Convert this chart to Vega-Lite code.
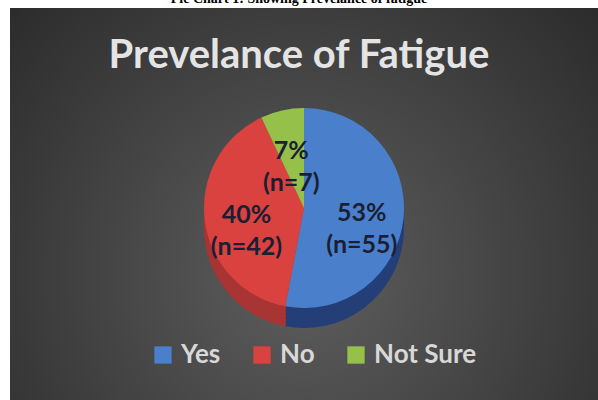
{
  "$schema": "https://vega.github.io/schema/vega-lite/v6.json",
  "width": 588,
  "height": 392,
  "autosize": {"type": "none"},
  "padding": {"left": 10, "top": 8, "right": 0, "bottom": 0},
  "background": "white",
  "title": {
    "text": "Pie Chart 1: Showing Prevelance of fatigue",
    "subtitle": "Prevelance of Fatigue",
    "anchor": "middle",
    "frame": "group",
    "offset": -68,
    "dx": -5,
    "font": "Liberation Serif",
    "fontSize": 14,
    "fontWeight": "bold",
    "color": "#000000",
    "subtitleFont": "Lato",
    "subtitleFontSize": 40,
    "subtitleFontWeight": "bold",
    "subtitleColor": "#e4e4e4",
    "subtitlePadding": 30
  },
  "datasets": {
    "pie": [
      {"answer": "Yes", "pct": 53, "n": 55, "idx": 1, "label": "53%\n(n=55)"},
      {"answer": "No", "pct": 40, "n": 42, "idx": 2, "label": "40%\n(n=42)"},
      {"answer": "Not Sure", "pct": 7, "n": 7, "idx": 3, "label": "7%\n(n=7)"}
    ],
    "bg": [{}]
  },
  "resolve": {"scale": {"color": "independent"}, "legend": {"color": "independent"}},
  "layer": [
    {
      "data": {"name": "bg"},
      "mark": {
        "type": "rect",
        "color": {
          "gradient": "radial",
          "x1": 0.5, "y1": 0.62, "r1": 0,
          "x2": 0.5, "y2": 0.62, "r2": 0.75,
          "stops": [
            {"offset": 0, "color": "#5e5e5e"},
            {"offset": 1, "color": "#262626"}
          ]
        }
      },
      "encoding": {}
    },
    {
      "data": {"name": "pie"},
      "layer": [
        {"mark": {"type": "arc", "outerRadius": 100, "yOffset": 24}},
        {"mark": {"type": "arc", "outerRadius": 100, "yOffset": 20}},
        {"mark": {"type": "arc", "outerRadius": 100, "yOffset": 16}},
        {"mark": {"type": "arc", "outerRadius": 100, "yOffset": 12}},
        {"mark": {"type": "arc", "outerRadius": 100, "yOffset": 8}}
      ],
      "encoding": {
        "theta": {"field": "pct", "type": "quantitative", "stack": true},
        "order": {"field": "idx", "type": "quantitative"},
        "color": {"field": "answer", "type": "nominal", "scale": {"domain": ["Yes", "No", "Not Sure"], "range": ["#243f78", "#a83434", "#64852b"]}, "legend": null}
      }
    },
    {
      "data": {"name": "pie"},
      "mark": {"type": "arc", "outerRadius": 100, "yOffset": 4},
      "encoding": {
        "theta": {"field": "pct", "type": "quantitative", "stack": true},
        "order": {"field": "idx", "type": "quantitative"},
        "color": {
          "field": "answer",
          "type": "nominal",
          "scale": {"domain": ["Yes", "No", "Not Sure"], "range": ["#4a7fcc", "#d9423f", "#95c04a"]},
          "legend": {
            "orient": "none",
            "legendX": 140,
            "legendY": 334,
            "direction": "horizontal",
            "title": null,
            "symbolType": "square",
            "symbolSize": 300,
            "symbolStrokeWidth": 0,
            "labelFont": "Lato",
            "labelFontSize": 26,
            "labelFontWeight": "bold",
            "labelColor": "#d8d8d8",
            "labelOffset": 5,
            "columnPadding": 28
          }
        }
      }
    },
    {
      "data": {"name": "pie"},
      "mark": {"type": "text", "radius": 58, "yOffset": 4, "font": "Lato", "fontSize": 25, "fontWeight": "bold", "color": "#1b1f33", "lineBreak": "\n", "lineHeight": 32, "baseline": "middle"},
      "encoding": {
        "theta": {"field": "pct", "type": "quantitative", "stack": true},
        "order": {"field": "idx", "type": "quantitative"},
        "text": {"field": "label", "type": "nominal"}
      }
    }
  ]
}
